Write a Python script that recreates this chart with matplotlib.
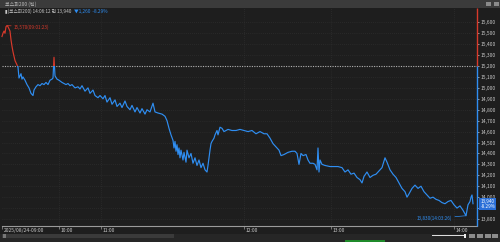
import matplotlib
matplotlib.use("Agg")
import matplotlib.pyplot as plt
import matplotlib.transforms as mtransforms
from matplotlib.patches import Rectangle

plt.rcParams['font.family'] = ['Noto Sans CJK KR', 'DejaVu Sans']

# ---- data ----
tick_idx = [0, 1, 2, 3, 4, 5, 6, 7, 8, 9, 10, 11, 12, 13, 14, 15, 16, 17, 18, 19,
            20, 21, 23, 25, 27, 29, 31, 32, 34, 36, 38, 40, 42, 44, 46, 48, 50, 51, 52, 53,
            55, 57, 60, 62, 64, 66, 68, 70, 73, 76, 78, 80, 83, 86, 88, 91, 93, 96, 98, 101,
            103, 105, 108, 110, 113, 115, 118, 120, 123, 125, 128, 130, 133, 135, 138, 140, 143, 145, 148, 151,
            153, 156, 160, 163, 165, 167, 169, 171, 172, 173, 174, 175, 176, 177, 178, 179, 181, 182, 184, 185,
            187, 189, 191, 193, 195, 197, 199, 201, 203, 205, 206, 207, 208, 209, 210, 212, 213, 215, 216, 218,
            220, 222, 224, 226, 230, 234, 238, 242, 246, 250, 254, 258, 262, 265, 268, 271, 274, 277, 279, 282,
            286, 290, 293, 295, 297, 299, 301, 304, 306, 308, 311, 313, 315, 316, 317, 318, 320, 323, 328, 332,
            336, 340, 343, 346, 349, 352, 355, 358, 360, 362, 365, 368, 371, 374, 377, 380, 383, 385, 388, 391,
            394, 397, 400, 403, 405, 407, 410, 413, 416, 419, 422, 425, 428, 431, 434, 437, 440, 443, 446, 449,
            452, 455, 458, 461, 464, 466, 468, 469, 470, 471]
price = [15470, 15500, 15520, 15500, 15560, 15570, 15560, 15540, 15520, 15440, 15380, 15330, 15290, 15250, 15230, 15210, 15190, 15090, 15110, 15130,
         15080, 15100, 15070, 15030, 15000, 14950, 14930, 14980, 15010, 15030, 15020, 15040, 15030, 15050, 15030, 15070, 15080, 15090, 15280, 15110,
         15080, 15070, 15050, 15040, 15030, 15040, 15020, 15030, 15000, 15010, 14990, 15020, 14970, 15000, 14950, 14980, 14930, 14910, 14930, 14900,
         14930, 14870, 14910, 14850, 14890, 14830, 14860, 14820, 14880, 14830, 14800, 14840, 14780, 14820, 14770, 14810, 14760, 14800, 14780, 14860,
         14780, 14770, 14760, 14740, 14700, 14630, 14570, 14520, 14450, 14510, 14420, 14480, 14390, 14450, 14360, 14430, 14340, 14410, 14320, 14430,
         14360, 14400, 14310, 14360, 14290, 14340, 14270, 14310, 14250, 14230, 14290, 14360, 14430, 14490, 14510, 14540, 14570, 14610, 14570, 14640,
         14630, 14600, 14610, 14620, 14610, 14610, 14620, 14610, 14600, 14610, 14580, 14600, 14580, 14580, 14540, 14490, 14460, 14430, 14380, 14390,
         14410, 14420, 14420, 14400, 14300, 14400, 14380, 14390, 14340, 14310, 14310, 14300, 14250, 14450, 14230, 14340, 14300, 14290, 14280, 14280,
         14280, 14270, 14230, 14250, 14210, 14220, 14180, 14160, 14130, 14190, 14230, 14180, 14200, 14210, 14240, 14270, 14360, 14320, 14250, 14210,
         14180, 14130, 14080, 14050, 14000, 14030, 14080, 14110, 14080, 14100, 14050, 14020, 13990, 14000, 13980, 13970, 13950, 13940, 13960, 13970,
         13930, 13900, 13920, 13880, 13830, 13930, 13960, 14000, 14020, 13940]

prev_close = 15200
time_tick_pos = [0, 57, 99, 242, 329, 452]
time_tick_labels = ["2025/08/24-09:00", "10:00", "11:00", "12:00", "13:00", "14:00"]
y_ticks = [13800, 13900, 14000, 14100, 14200, 14300, 14400, 14500, 14600, 14700,
           14800, 14900, 15000, 15100, 15200, 15300, 15400, 15500, 15600]
title_text = "코스피200 (틱)"
header_text = "▮(코스피200) 14:06:12 현 13,940"
header_change = "▼1,260  -8.29%"
high_label = "15,570(09:01:23)"
low_label = "13,830(14:03:26)"
last_label = "13,940\n-8.29%"

# ---- style ----
BG = '#1e1e1e'
RED = '#d8392b'
BLUE = '#2f8ef2'
TXT = '#c8c8c8'
W, H = 500, 242

fig = plt.figure(figsize=(5.0, 2.42), dpi=100, facecolor=BG)

# bottom scrollbar area (drawn beneath axes)
fig.patches.append(Rectangle((0, 0), 1, 8.5 / H, transform=fig.transFigure,
                             fc='#262626', ec='none', zorder=-5))
fig.patches.append(Rectangle((2 / W, 4.5 / H), 172 / W, 4 / H, transform=fig.transFigure,
                             fc='#3a3a3a', ec='none', zorder=-4))
fig.patches.append(Rectangle((3 / W, 4.5 / H), 3 / W, 4 / H, transform=fig.transFigure,
                             fc='#777777', ec='none', zorder=-3))
fig.patches.append(Rectangle((432 / W, 6 / H), 34 / W, 1 / H, transform=fig.transFigure,
                             fc='#dddddd', ec='none', zorder=-3))
fig.patches.append(Rectangle((464 / W, 4.5 / H), 2 / W, 4 / H, transform=fig.transFigure,
                             fc='#eeeeee', ec='none', zorder=-3))
for px in (469, 477, 485, 492):
    fig.patches.append(Rectangle((px / W, 4 / H), 6 / W, 4.5 / H, transform=fig.transFigure,
                                 fc='#8c8c8c', ec='none', zorder=-3))
fig.patches.append(Rectangle((345 / W, 0), 40 / W, 2 / H, transform=fig.transFigure,
                             fc='#1f8a2a', ec='none', zorder=-3))

# title bar
fig.patches.append(Rectangle((0, 1 - 7.5 / H), 1, 7.5 / H, transform=fig.transFigure,
                             fc='#3b3b3b', ec='none', zorder=-5))
fig.text(5 / W, 1 - 3.8 / H, title_text, fontsize=3.6, color='#bdbdbd', va='center', ha='left')
for px in (486, 494):
    fig.patches.append(Rectangle((px / W, 1 - 6 / H), 5 / W, 4 / H, transform=fig.transFigure,
                                 fc='#8a8a8a', ec='none', zorder=-3))

ax = fig.add_axes([2 / W, 1 - 226 / H, 475 / W, 218 / H], facecolor=BG)

xmax = 475
ymin, ymax = 13736, 15731
ax.set_xlim(0, xmax)
ax.set_ylim(ymin, ymax)

# grid
for yt in y_ticks:
    ax.axhline(yt, color='#343434', lw=0.5, ls=(0, (1, 2)), zorder=0)
for xt in time_tick_pos[1:]:
    ax.axvline(xt, color='#343434', lw=0.5, ls=(0, (1, 2)), zorder=0)

# prev close dotted line
ax.axhline(prev_close, color='#b0b0b0', lw=0.8, ls=(0, (1, 1.2)), zorder=1)

# line coloured above/below prev close
lr, = ax.plot(tick_idx, price, color=RED, lw=0.85, zorder=3)
lb, = ax.plot(tick_idx, price, color=BLUE, lw=0.85, zorder=3)
lr.set_clip_path(Rectangle((-10, prev_close), xmax + 20, 5000, transform=ax.transData))
lb.set_clip_path(Rectangle((-10, prev_close - 5000), xmax + 20, 5000, transform=ax.transData))

# high / low annotations
hi_i = price.index(max(price))
lo_i = price.index(min(price))
ax.annotate(high_label, xy=(tick_idx[hi_i], price[hi_i]), xytext=(5, -1),
            textcoords='offset points', color=RED, fontsize=3.4, va='center', ha='left',
            arrowprops=dict(arrowstyle='-', color=RED, lw=0.5, shrinkA=0, shrinkB=0))
ax.annotate(low_label, xy=(tick_idx[lo_i], price[lo_i]), xytext=(-10, -2),
            textcoords='offset points', color=BLUE, fontsize=3.4, va='center', ha='right',
            arrowprops=dict(arrowstyle='-', color=BLUE, lw=0.5, shrinkA=0, shrinkB=0))

# spines
for s in ['top', 'left', 'right']:
    ax.spines[s].set_visible(False)
ax.spines['bottom'].set_color('#9a9a9a')
ax.spines['bottom'].set_linewidth(0.8)
ax.vlines(xmax, prev_close, ymax, color=RED, lw=1.0, clip_on=False, zorder=4)
ax.vlines(xmax, ymin, prev_close, color=BLUE, lw=1.0, clip_on=False, zorder=4)

# y ticks on right (13,900 is hidden behind the last-price box in the reference)
ax.yaxis.tick_right()
ax.set_yticks(y_ticks)
ax.set_yticklabels(["" if v == 13900 else f"{v:,}" for v in y_ticks], fontsize=3.6, color=TXT)
ax.tick_params(axis='y', length=1.5, width=0.5, colors=TXT, pad=0.8)

# x ticks
ax.set_xticks(time_tick_pos)
ax.set_xticklabels(time_tick_labels, fontsize=3.6, color=TXT, ha='left')
ax.tick_params(axis='x', length=2.2, width=0.5, colors='#9a9a9a', pad=-0.6, direction='out')
shift = mtransforms.ScaledTranslation(1.5 / 100, 0, fig.dpi_scale_trans)
for lab in ax.get_xticklabels():
    lab.set_color(TXT)
    lab.set_transform(lab.get_transform() + shift)

# last price box
ax.annotate(last_label, xy=(1.0, price[-1]), xycoords=('axes fraction', 'data'),
            xytext=(2.5, 0), textcoords='offset points', fontsize=3.3, color='white',
            va='center', ha='left', linespacing=0.9, annotation_clip=False,
            bbox=dict(boxstyle='square,pad=0.25', fc='#2a6fd8', ec='none'), zorder=6)

# header text
t1 = ax.text(3 / 475, 1 - 3 / 218, header_text, transform=ax.transAxes, fontsize=3.4,
             color=TXT, va='center', ha='left')
ax.annotate(header_change, xy=(1, 0.5), xycoords=t1, xytext=(2, 0),
            textcoords='offset points', fontsize=3.4, color=BLUE, va='center', ha='left')

fig.savefig("out.png", dpi=100, facecolor=BG)
